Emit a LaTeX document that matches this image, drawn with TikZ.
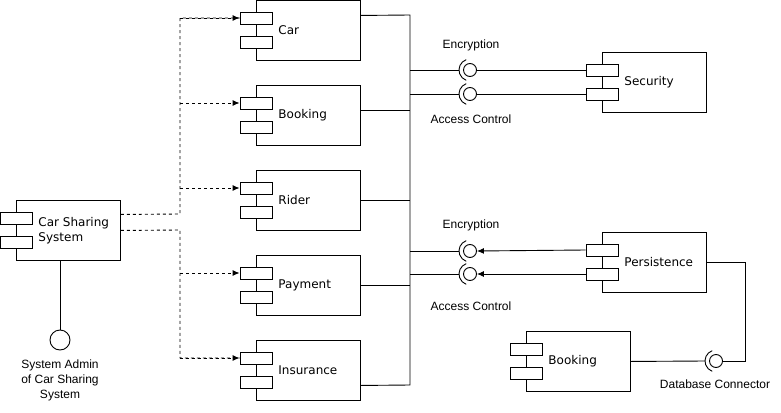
\documentclass[tikz,border=0pt]{standalone}
\usepackage{fontspec}
\setmainfont{Liberation Sans}
\newfontfamily\boxfont{DejaVu Sans}
\usetikzlibrary{positioning,arrows.meta}

\begin{document}
\begin{tikzpicture}[x=1pt, y=-1pt, line width=0.9pt,
    comp/.style={draw, rectangle, anchor=north west, minimum width=104pt, minimum height=60pt, inner sep=0pt},
    port/.style={draw, rectangle, fill=white, minimum width=32pt, minimum height=12pt, inner sep=0pt},
    clabel/.style={font=\boxfont\fontsize{12}{15}\selectfont, inner sep=0pt, align=left},
    txt/.style={font=\fontsize{12}{15}\selectfont, inner sep=0pt, align=center},
    ball/.style={draw, circle, minimum size=13pt, inner sep=0pt},
    dep/.style={dash pattern=on 3pt off 3pt},
    req/.style={-{Latex[length=7pt,width=6pt]}}]

    \useasboundingbox[fill=white] (0,0) rectangle (781,412);

    % main system and its admin interface
    \node[comp] (css) at (16,200) {};
    \node[port] (css-p1) at ([yshift=-18pt]css.north west) {};
    \node[port] (css-p2) at ([yshift=-42pt]css.north west) {};
    \node[clabel, right=22pt of css.west] (css-t) {Car Sharing\\System};

    \node[draw, circle, minimum size=20pt, inner sep=0pt] (admin) at (60,340) {};
    \node[txt] (admin-t) at (60,380) {System Admin\\of Car Sharing\\System};
    \draw (css.south -| admin) -- (admin);

    % domain components
    \foreach \n/\t/\y in {car/Car/0, book/Booking/85, rider/Rider/170, pay/Payment/255, ins/Insurance/340}{
        \node[comp] (\n) at (256,\y) {};
        \node[port] (\n-p1) at ([yshift=-18pt]\n.north west) {};
        \node[port] (\n-p2) at ([yshift=-42pt]\n.north west) {};
        \node[clabel, right=22pt of \n.west] (\n-t) {\t};
    }

    % right side components
    \node[comp] (sec) at (602,52) {};
    \node[port] (sec-p1) at ([yshift=-18pt]sec.north west) {};
    \node[port] (sec-p2) at ([yshift=-42pt]sec.north west) {};
    \node[clabel, right=22pt of sec.west] (sec-t) {Security};

    \node[comp] (pers) at (602,232) {};
    \node[port] (pers-p1) at ([yshift=-18pt]pers.north west) {};
    \node[port] (pers-p2) at ([yshift=-42pt]pers.north west) {};
    \node[clabel, right=22pt of pers.west] (pers-t) {Persistence};

    \node[comp] (bookdb) at (526,331) {};
    \node[port] (bookdb-p1) at ([yshift=-18pt]bookdb.north west) {};
    \node[port] (bookdb-p2) at ([yshift=-42pt]bookdb.north west) {};
    \node[clabel, right=22pt of bookdb.west] (bookdb-t) {Booking};

    % sockets
    \node[ball] (encs) at (470,70) {};
    \node[ball] (acs) at (470,94) {};
    \node[ball] (encp) at (470,251) {};
    \node[ball] (acp) at (470,274) {};
    \node[ball] (dbc) at (716,361) {};
    \foreach \s in {encs, acs, encp, acp, dbc}
        \draw ([shift={(110:11pt)}]\s.center) arc[start angle=110, end angle=250, radius=11pt];

    \node[txt] (encs-t) at (471,45) {Encryption};
    \node[txt] (acs-t) at (471,119) {Access Control};
    \node[txt] (encp-t) at (471,225) {Encryption};
    \node[txt] (acp-t) at (471,306) {Access Control};
    \node[txt] (dbc-t) at (715,384) {Database Connector};

    % bus
    \coordinate (bustop) at (410,15);
    \coordinate (busbot) at (410,385);
    \draw ([yshift=15pt]car.east) -- (bustop) -- (busbot) -- ([yshift=-15pt]ins.east);
    \draw ([yshift=5pt]book.east) coordinate (bk) -- (bk -| bustop);
    \draw (rider.east) -- (rider.east -| bustop);
    \draw (pay.east) -- (pay.east -| bustop);

    \foreach \s in {encs, acs, encp, acp}
        \draw (\s.center -| bustop) -- ([xshift=-11pt]\s.center);
    \draw (encs.east) -- (sec-p1.west);
    \draw (acs.east) -- (sec-p2.west);
    \draw[req] (pers-p1.west) -- (encp.east);
    \draw[req] (pers-p2.west) -- (acp.east);

    \draw (bookdb.east) -- ([xshift=-11pt]dbc.center);
    \draw (pers.east) -| ([xshift=22pt]dbc.east) -- (dbc.east);

    % dependencies
    \coordinate (dup) at (180,214);
    \coordinate (ddn) at (180,230);
    \draw[dep] ([yshift=16pt]css.east) -- (dup) |- (car-p1.west);
    \draw[dep] (css.east) -- (ddn) |- (ins-p1.west);
    \foreach \n in {car, book, rider, pay, ins}
        \draw[dep, req] (dup |- \n-p1.west) -- (\n-p1.west);
\end{tikzpicture}
\end{document}
